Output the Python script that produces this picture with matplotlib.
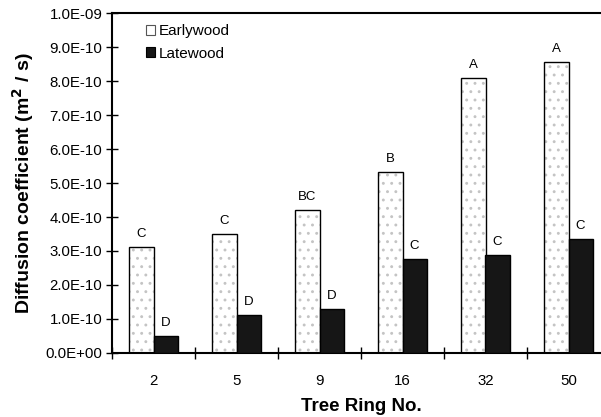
import matplotlib
matplotlib.use("Agg")
import matplotlib.pyplot as plt
from matplotlib.patches import Patch
import numpy as np

plt.rcParams['font.family'] = ['Liberation Sans', 'DejaVu Sans']
plt.rcParams['hatch.linewidth'] = 0.9

categories = ['2', '5', '9', '16', '32', '50']
earlywood = [3.13e-10, 3.51e-10, 4.20e-10, 5.32e-10, 8.08e-10, 8.55e-10]
latewood = [0.49e-10, 1.13e-10, 1.30e-10, 2.76e-10, 2.87e-10, 3.34e-10]
early_letters = ['C', 'C', 'BC', 'B', 'A', 'A']
late_letters = ['D', 'D', 'D', 'C', 'C', 'C']
yticks = [i * 1e-10 for i in range(11)]
ytick_labels = ['0.0E+00', '1.0E-10', '2.0E-10', '3.0E-10', '4.0E-10', '5.0E-10',
                '6.0E-10', '7.0E-10', '8.0E-10', '9.0E-10', '1.0E-09']

fig = plt.figure(figsize=(6.01, 4.17), dpi=100)
ax = fig.add_axes([112/601, 64/417, (610-112)/601, 340/417])

x = np.arange(len(categories))
w = 0.29
# dotted fill (hatch colour follows edge colour)
ax.bar(x - w/2, earlywood, w, color='white', edgecolor='#c4c4c4', linewidth=0,
       hatch='..', zorder=2)
ax.bar(x - w/2, earlywood, w, fill=False, edgecolor='black', linewidth=1.0, zorder=3)
ax.bar(x + w/2, latewood, w, color='#161616', edgecolor='black', linewidth=1.0, zorder=3)

for xi, v, t in zip(x - w/2, earlywood, early_letters):
    ax.annotate(t, (xi, v), xytext=(0, 5), textcoords='offset points',
                ha='center', va='bottom', fontsize=9.5)
for xi, v, t in zip(x + w/2, latewood, late_letters):
    ax.annotate(t, (xi, v), xytext=(0, 5), textcoords='offset points',
                ha='center', va='bottom', fontsize=9.5)

ax.set_xlim(-0.5, 5.5)
ax.set_ylim(0, 1e-9)
ax.set_yticks(yticks)
ax.set_yticklabels(ytick_labels, fontsize=10.8)
ax.set_xticks(np.arange(-0.5, 5.6, 1.0), minor=False)
ax.set_xticklabels([])
ax.set_xticks(x, minor=True)
ax.set_xticklabels(categories, minor=True, fontsize=10.8)
ax.tick_params(axis='x', which='major', direction='inout', length=8, width=1)
ax.tick_params(axis='x', which='minor', length=0, pad=15)
ax.tick_params(axis='y', direction='inout', length=8, width=1, pad=3)

for s in ['left', 'bottom', 'top', 'right']:
    ax.spines[s].set_linewidth(1.5)

ax.set_xlabel('Tree Ring No.', fontsize=13.5, fontweight='bold', labelpad=7)
ax.set_ylabel('Diffusion coefficient (m$^{\\mathbf{2}}$ / s)', fontsize=14,
              fontweight='bold', labelpad=7)

handles = [Patch(facecolor='white', edgecolor='#555555', linewidth=0.8, label='Earlywood'),
           Patch(facecolor='#161616', edgecolor='black', linewidth=0.8, label='Latewood')]
ax.legend(handles=handles, loc='upper left', bbox_to_anchor=(0.055, 0.985), frameon=False,
          fontsize=11, handlelength=0.6, handleheight=0.6,
          handletextpad=0.25, labelspacing=0.55, borderaxespad=0)

fig.savefig('out.png', dpi=100)
